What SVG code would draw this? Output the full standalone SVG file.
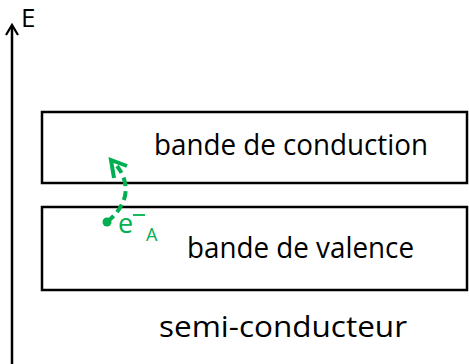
<svg xmlns="http://www.w3.org/2000/svg" width="469" height="364" viewBox="0 0 469 364">
<style>
.box{fill:#fff;stroke:#000;stroke-width:2.5}
.t{font-family:"Open Sans","Liberation Sans",sans-serif;font-size:29px;fill:#000}
.g{font-family:"Open Sans","Liberation Sans",sans-serif;fill:#00b050}
</style>
<g id="axis">
<line x1="12" y1="364" x2="12" y2="26" stroke="#000" stroke-width="2.5"/>
<path d="M6,35 L12,25 L18,35" fill="none" stroke="#000" stroke-width="2.2"/>
<text x="21" y="27" class="t" style="font-size:26px">E</text>
</g>
<g id="conduction">
<rect class="box" x="42" y="112" width="425" height="71"/>
<text class="t" x="154" y="155" textLength="274" lengthAdjust="spacingAndGlyphs">bande de conduction</text>
</g>
<g id="valence">
<rect class="box" x="42" y="207" width="425" height="83"/>
<text class="t" x="187" y="258" textLength="227" lengthAdjust="spacingAndGlyphs">bande de valence</text>
</g>
<g id="label">
<text class="t" x="159" y="337" textLength="248" lengthAdjust="spacingAndGlyphs">semi-conducteur</text>
</g>
<g id="connectors">
<path d="M107,222 Q121,211 125,196 Q128,180 117,166" fill="none" stroke="#00b050" stroke-width="4" stroke-dasharray="9,5"/>
<path d="M114,178 L111,160 L127,166" fill="none" stroke="#00b050" stroke-width="4" stroke-linejoin="miter"/>
<circle cx="107" cy="222" r="4.5" fill="#00b050"/>
</g>
<g id="electron">
<text class="g" x="118" y="233" style="font-size:27px">e</text>
<line x1="133" y1="215" x2="145" y2="215" stroke="#00b050" stroke-width="1.8"/>
<text class="g" x="146" y="241" style="font-size:18px">A</text>
</g>
</svg>
